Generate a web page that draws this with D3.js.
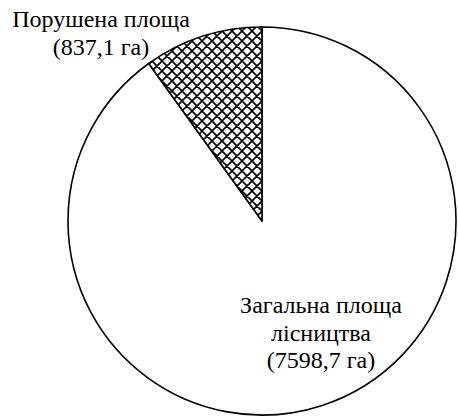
<!DOCTYPE html>
<html>
<head>
<meta charset="utf-8">
<script src="https://cdn.jsdelivr.net/npm/d3@7"></script>
</head>
<body>
<script>
// chart data
var categories = ['Загальна площа лісництва', 'Порушена площа'];
var areas = [7598.7, 837.1];
var labelLines = [
    ['Загальна площа', 'лісництва', '(7598,7 га)'],
    ['Порушена площа', '(837,1 га)']
];

var width = 458, height = 416;
var cx = 262, cy = 221, radius = 194;

var svg = d3.select('body').append('svg')
    .attr('width', width)
    .attr('height', height)
    .style('position', 'absolute')
    .style('left', '0px')
    .style('top', '0px');

// cross hatch for the disturbed area
var defs = svg.append('defs');
var pat = defs.append('pattern')
    .attr('id', 'hatch')
    .attr('patternUnits', 'userSpaceOnUse')
    .attr('width', 10)
    .attr('height', 10);
pat.append('rect').attr('width', 10).attr('height', 10).attr('fill', '#fff');
pat.append('path')
    .attr('d', 'M-1,1 l2,-2 M0,10 l10,-10 M9,11 l2,-2 M-1,9 l2,2 M0,0 l10,10 M9,-1 l2,2')
    .attr('stroke', '#000')
    .attr('stroke-width', 1.6);

var pie = d3.pie().sort(null).value(function(d) { return d; });
var arc = d3.arc().innerRadius(0).outerRadius(radius);

var g = svg.append('g').attr('transform', 'translate(' + cx + ',' + cy + ')');

g.selectAll('path.slice')
    .data(pie(areas))
    .enter().append('path')
    .attr('class', 'slice')
    .attr('d', arc)
    .attr('fill', function(d, i) { return i === 1 ? 'url(#hatch)' : '#fff'; })
    .attr('stroke', '#000')
    .attr('stroke-width', 1.6)
    .attr('stroke-linejoin', 'round');

// labels, one text element per line, centred by measuring
var labelPos = [
    { x: 321, y: 313 },
    { x: 101, y: 27 }
];

var lines = [];
labelLines.forEach(function(ls, i) {
    ls.forEach(function(s, j) {
        lines.push({ text: s, x: labelPos[i].x, y: labelPos[i].y + j * 27.5 });
    });
});

svg.selectAll('text')
    .data(lines)
    .enter().append('text')
    .attr('y', function(d) { return d.y; })
    .style('font-family', "'Times New Roman'")
    .style('font-size', '24px')
    .text(function(d) { return d.text; })
    .attr('x', function(d) { return d.x - this.getComputedTextLength() / 2; });
</script>
</body>
</html>
